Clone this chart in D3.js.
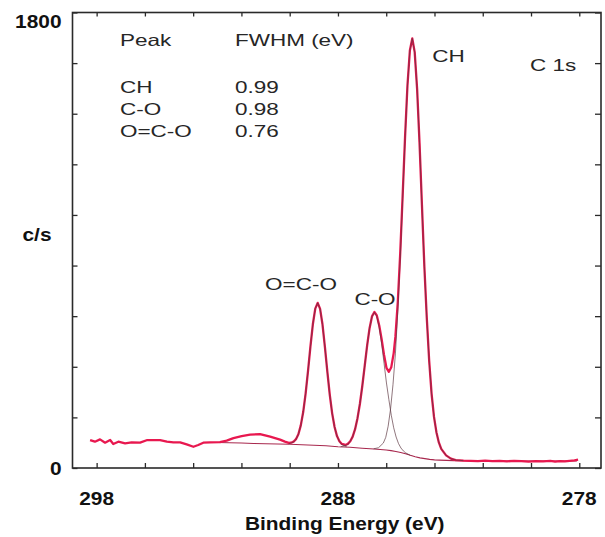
<!DOCTYPE html>
<html><head><meta charset="utf-8">
<script src="https://cdn.jsdelivr.net/npm/d3@7"></script>
<style>
html,body{margin:0;padding:0;background:#fff;}
svg{display:block;}
</style></head><body>
<svg id="chart" width="605" height="537"></svg>
<script>
// ---------- data ----------
const xTickValues = [298,296,294,292,290,288,286,284,282,280,278];
const xTickLabels = [298,288,278];
const yTickValues = [0,200,400,600,800,1000,1200,1400,1600,1800];
const yTickLabels = [0,1800];
const xTitle = "Binding Energy (eV)";
const yTitle = "c/s";
const tableHeader = ["Peak","FWHM (eV)"];
const peakNames = ["CH","C-O","O=C-O"];
const fwhmValues = ["0.99","0.98","0.76"];
const regionLabel = "C 1s";

// measured spectrum (binding energy, counts/s)
const spectrumBE = [298.27,298.07,297.86,297.65,297.44,297.31,297.10,296.82,296.55,296.20,295.90,295.65,295.37,295.09,294.82,294.54,294.27,293.99,293.79,293.58,293.30,292.89,292.61,292.33,291.99,291.64,291.23,290.81,290.40,290.20,290.04,
 289.94,289.84,289.74,289.64,289.54,289.44,289.34,289.24,289.14,289.04,288.94,288.84,288.74,288.64,288.54,288.44,288.34,288.24,288.14,288.04,287.94,287.84,
 287.69,287.59,287.49,287.39,287.29,287.19,287.09,286.99,286.89,286.79,286.69,286.59,286.49,286.39,286.29,286.19,286.09,285.99,285.89,285.79,285.69,
 285.62,285.52,285.42,285.32,285.22,285.12,285.02,284.92,284.82,284.72,284.62,284.52,284.42,284.32,284.22,284.12,284.02,283.92,283.82,283.72,283.52,283.32,283.12,282.80,
 282.50,282.20,281.90,281.60,281.30,281.00,280.70,280.40,280.10,279.80,279.50,279.20,279.00,278.80,278.60,278.40,278.20,278.05];
const spectrumCounts = [110.5,104,113,100,110.5,95,104,97.5,101,100,110.5,110.5,110.5,104,101,101,93.5,84,91,100,101,102.6,108,118,126,132,134,124,112,104,99,
 100,104,114,133.5,168.5,221,294,384,480.5,568,630,652.5,629,567,478,381,290,216,162,126,106,95,
 91,95.3,105.7,124,153.5,197,254,325,405,484.6,552.6,599,616.5,603,563.5,509,447,396,380,398.5,454,
 518,657,848.5,1075,1306.5,1511.5,1650,1697.5,1643.5,1498,1285,1039,797,595,424,293,202,141.5,101,75.5,50,37,31.5,29,
 28.5,27,29,27.5,28,26.5,28,27,25.5,27,26,28,25.5,27.5,26,28.5,30,33];

// fitted components
const ococBE = [290.04,289.84,289.74,289.64,289.54,289.44,289.34,289.24,289.14,289.04,288.94,288.84,288.74,288.64,288.54,288.44,288.34,288.24,288.14,288.04,287.94,287.84,287.64];
const ococCounts = [95.6,102.5,113,133,168,221,294,384,480,568,630,652.5,629,567,478,381,290,216,162,126,105,93,84];
const coBE = [287.89,287.69,287.59,287.49,287.39,287.29,287.19,287.09,286.99,286.89,286.79,286.69,286.59,286.49,286.39,286.29,286.19,286.09,285.99,285.89,285.79,285.69,285.59,285.49,285.39,285.29,285.19,285.09,285.00];
const coCounts = [84,88.5,94,105.7,124,153.5,197,254,325,405,484.6,552.6,598.5,615,599,555.5,491,414,336,270,208.5,159,122.5,96.5,79,67.5,59.5,54.5,50];
const chBE = [286.52,286.32,286.12,286.02,285.92,285.82,285.72,285.62,285.52,285.42,285.32,285.22,285.12,285.02,284.92,284.82,284.72,284.62,284.52,284.42,284.32,284.22,284.12,284.02,283.92,283.82,283.72,283.52,283.32,283.12,282.80];
const chCounts = [76,80,98.5,121,165,233.5,329,451,619,826.5,1064,1301.5,1509.5,1649.5,1697.5,1643.5,1498,1285,1039,797,595,424,293,202,141.5,101,75.5,50,37,31.5,29];

// background
const bgBE = [293.45,293.0,292.5,292.0,291.5,291.0,290.5,290.0,289.5,289.0,288.5,288.0,287.5,287.0,286.5,286.0,285.8,285.6,285.4,285.2,285.0,284.8,284.6,284.4,284.2,284.0,283.8,283.5,283.2,282.8,282.0,281.0,280.0,279.0,278.1];
const bgCounts = [101,100.5,99.5,98.5,97,96,95,94,92,90,88,84,82,78,75,71,68.5,65.5,61.5,56,50,44.5,40,37,34,32,31,30,29,28.5,28,27.5,27.5,27.5,27.5];

const peakLabelNames = ["O=C-O","C-O","CH"];
const peakLabelBE = [288.84,286.49,284.92];
const peakLabelCounts = [652.5,616.5,1697.5];

// ---------- drawing ----------
const svg = d3.select("#chart");
const L = 72.5, R = 601, T = 12.5, B = 468;
const x = d3.scaleLinear().domain([299, 277.1]).range([L, R]);
const y = d3.scaleLinear().domain([0, 1800]).range([B, T]);

const font = "'Liberation Sans', Arial, Helvetica, sans-serif";
const axisColor = "#2a2a2a";

function styleAxis(g){
  g.select(".domain").remove();
  g.selectAll(".tick line").attr("stroke", axisColor).attr("stroke-width", 1.3);
  g.selectAll(".tick text").remove();
}
svg.append("g").attr("transform",`translate(0,${B})`)
  .call(d3.axisBottom(x).tickValues(xTickValues).tickSizeInner(-5).tickSizeOuter(0).tickFormat("")).call(styleAxis);
svg.append("g").attr("transform",`translate(0,${T})`)
  .call(d3.axisTop(x).tickValues(xTickValues).tickSizeInner(-4).tickSizeOuter(0).tickFormat("")).call(styleAxis);
svg.append("g").attr("transform",`translate(${L},0)`)
  .call(d3.axisLeft(y).tickValues(yTickValues).tickSizeInner(-5).tickSizeOuter(0).tickFormat("")).call(styleAxis);
svg.append("g").attr("transform",`translate(${R},0)`)
  .call(d3.axisRight(y).tickValues(yTickValues).tickSizeInner(-6).tickSizeOuter(0).tickFormat("")).call(styleAxis);

svg.append("rect").attr("x",L).attr("y",T).attr("width",R-L).attr("height",B-T)
  .attr("fill","none").attr("stroke",axisColor).attr("stroke-width",1.6);

const toPts = (be, c) => be.map((b,i)=>[b,c[i]]);
const line = d3.line().x(d=>x(d[0])).y(d=>y(d[1]));

const redColor = "#e8184f";
const compColor = "#5a3540";

svg.append("path").attr("d", line(toPts(bgBE,bgCounts)))
  .attr("fill","none").attr("stroke","#a8284e").attr("stroke-width",1.1);
svg.append("path").attr("d", line(toPts(spectrumBE,spectrumCounts)))
  .attr("fill","none").attr("stroke",redColor).attr("stroke-width",2.3).attr("stroke-linejoin","round");
[[ococBE,ococCounts],[coBE,coCounts],[chBE,chCounts]].forEach(([b,c])=>{
  svg.append("path").attr("d", line(toPts(b,c)))
    .attr("fill","none").attr("stroke",compColor).attr("stroke-width",0.8).attr("stroke-opacity",0.85).attr("stroke-linejoin","round");
});

function txt(str, px, py, opts){
  const o = Object.assign({size:16.3, sx:1.38, weight:"normal", anchor:"start", fill:"#262626"}, opts||{});
  svg.append("text").text(str)
    .attr("transform",`translate(${px},${py}) scale(${o.sx},1)`)
    .attr("font-family",font).attr("font-size",o.size).attr("font-weight",o.weight)
    .attr("text-anchor",o.anchor).attr("fill",o.fill);
}

const boldOpt = {size:18.5, sx:1.13, weight:"bold", fill:"#111"};
xTickLabels.forEach(v => txt(String(v), x(v), 505, Object.assign({anchor:"middle"}, boldOpt)));
yTickLabels.forEach(v => txt(String(v), L-11, y(v) + (v===1800 ? 15 : 6.6), Object.assign({anchor:"end"}, boldOpt)));
txt(xTitle, (L+R)/2 + 8, 530, Object.assign({anchor:"middle"}, boldOpt));
txt(yTitle, 37, 241, Object.assign({anchor:"middle"}, boldOpt));

txt(tableHeader[0], 120, 46);
txt(tableHeader[1], 235, 46);
const rowY = [93, 115, 137];
peakNames.forEach((n,i)=>{ txt(n, 120, rowY[i]); txt(fwhmValues[i], 235, rowY[i]); });

const labelOffsets = [[-52.6,-12.7],[-20,-7],[20,24]];
peakLabelNames.forEach((n,i)=>{
  txt(n, x(peakLabelBE[i]) + labelOffsets[i][0], y(peakLabelCounts[i]) + labelOffsets[i][1]);
});
txt(regionLabel, 530, 71);
</script>
</body></html>
